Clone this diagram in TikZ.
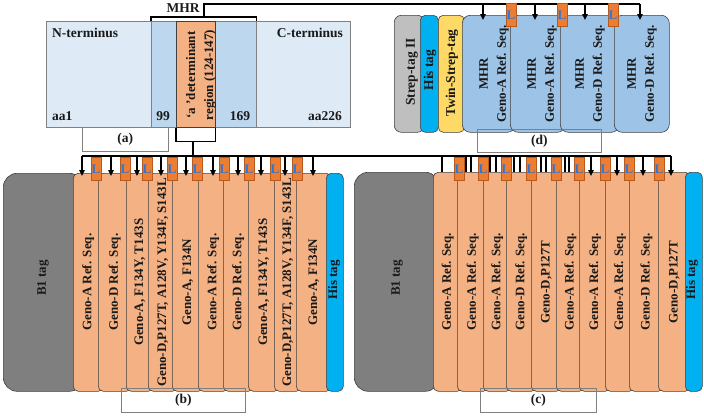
\documentclass[tikz,border=0pt]{standalone}
\usepackage{fontspec}
\setmainfont{Liberation Serif}
\usetikzlibrary{arrows.meta, positioning}
\definecolor{protfill}{HTML}{DEEBF7}
\definecolor{mhrfill}{HTML}{BDD7EE}
\definecolor{adetfill}{HTML}{F4B183}
\definecolor{linkfill}{HTML}{ED7D31}
\definecolor{linkdraw}{HTML}{B85A1E}
\definecolor{linktext}{HTML}{2E75D6}
\definecolor{tagdark}{HTML}{7F7F7F}
\definecolor{taglight}{HTML}{BFBFBF}
\definecolor{histag}{HTML}{00B0F0}
\definecolor{twintag}{HTML}{FFD966}
\definecolor{mhrbox}{HTML}{9DC3E6}
\definecolor{edge}{HTML}{404040}

\begin{document}
\begin{tikzpicture}[
    x=1pt, y=-1pt,
    every node/.style={font=\bfseries\fontsize{13.5}{18}\selectfont, inner sep=0pt, text=black!90},
    box/.style={draw=edge, line width=0.6pt, anchor=north west, rounded corners=5pt},
    flat/.style={box, rounded corners=0pt, draw=gray},
    lbl/.style={rotate=90, font=\bfseries\fontsize{13}{18}\selectfont},
    link/.style={draw=linkdraw, fill=linkfill, line width=0.5pt, anchor=north,
        minimum width=9.5pt, minimum height=23pt, text=linktext,
        font=\bfseries\fontsize{13}{13}\selectfont},
    tagbox/.style={draw=gray, line width=0.6pt, anchor=north west, minimum height=24pt},
    wire/.style={black, line width=1.5pt},
    feed/.style={wire, -{Triangle[length=6pt, width=5.5pt]}},
]
\useasboundingbox (0,0) rectangle (704,415);

% ---------------- (a) the protein
\node[flat, fill=protfill, minimum width=304pt, minimum height=106pt] (prot) at (46,21) {};
\node[flat, fill=mhrfill, minimum width=105pt, minimum height=106pt] (mhr) at (151,21) {};
\node[flat, fill=adetfill, draw=edge, minimum width=39pt, minimum height=106pt] (adet) at (176,21) {};
\node[anchor=west] (nterm) at (52,33) {N-terminus};
\node[anchor=east] (cterm) at (343,33) {C-terminus};
\node[anchor=west] (aa1) at (52,116) {aa1};
\node (n99) at (163,116) {99};
\node (n169) at (240,116) {169};
\node[anchor=east] (aa226) at (342,116) {aa226};
\node[lbl, align=center] (adetl) at (201,75) {‘a ’determinant\\region (124-147)};
\node[tagbox, minimum width=86pt] (taga) at (82,127) {(a)};

% ---------------- (d) the MHR construct
\node[box, rounded corners=7pt, fill=taglight, minimum width=30pt, minimum height=117pt] (strep) at (394,15) {};
\node[box, fill=histag, minimum width=18pt, minimum height=117pt] (hisd) at (420,15) {};
\node[box, fill=twintag, minimum width=26pt, minimum height=117pt] (twin) at (438,15) {};
\foreach \i/\x/\w in {1/462/53, 2/510/55, 3/560/59, 4/614/55}{
    \node[box, rounded corners=8pt, fill=mhrbox, minimum width=\w pt, minimum height=117pt] (mhrd\i) at (\x,15) {};
}
\node[lbl, font=\bfseries\fontsize{13.5}{18}\selectfont] (strepl) at (412,72) {Strep-tag II};
\node[lbl, font=\bfseries\fontsize{13.5}{18}\selectfont] (hisdl) at (430,70) {His tag};
\node[lbl, font=\bfseries\fontsize{13.5}{18}\selectfont] (twinl) at (452,73) {Twin-Strep-tag};
\foreach \i/\x/\g in {1/494/A, 2/542/A, 3/590/D, 4/642/D}{
    \node[lbl, align=center] (mhrdl\i) at (\x,74) {MHR\\Geno-\g{} Ref. Seq.};
}
\node[tagbox, minimum width=124pt, minimum height=23pt] (tagd) at (477,129) {(d)};

% ---------------- (b) first B1 construct
\node[box, rounded corners=14pt, fill=tagdark, minimum width=80pt, minimum height=218pt] (b1b) at (3,173) {};
\foreach \i/\x/\w/\txt in {1/73/30/{Geno-A Ref. Seq.}, 2/98/33/{Geno-D Ref. Seq.},
    3/126/27/{Geno-A, F134Y, T143S}, 4/148/29/{Geno-D,P127T, A128V, Y134F, S143L},
    5/172/31/{Geno-A, F134N}, 6/198/30/{Geno-A Ref. Seq.}, 7/223/30/{Geno-D Ref. Seq.},
    8/248/31/{Geno-A, F134Y, T143S}, 9/274/27/{Geno-D,P127T, A128V, Y134F, S143L},
    10/296/35/{Geno-A, F134N}}{
    \node[box, fill=adetfill, minimum width=\w pt, minimum height=218pt] (colb\i) at (\x,173) {};
    \node[lbl] (colbl\i) at (colb\i.center) {\txt};
}
\node[box, fill=histag, minimum width=17pt, minimum height=218pt] (hisb) at (326,173) {};
\node[lbl] (b1bl) at (43,278) {B1 tag};
\node[lbl] (hisbl) at (334,280) {His tag};
\node[tagbox, minimum width=124pt] (tagb) at (121,388) {(b)};

% ---------------- (c) second B1 construct
\node[box, rounded corners=14pt, fill=tagdark, minimum width=85pt, minimum height=219pt] (b1c) at (354,172) {};
\foreach \i/\x/\w/\txt in {1/433/29/{Geno-A Ref. Seq.}, 2/457/31/{Geno-A Ref. Seq.},
    3/483/28/{Geno-A Ref. Seq.}, 4/506/30/{Geno-D Ref. Seq.}, 5/531/30/{Geno-D,P127T},
    6/556/28/{Geno-A Ref. Seq.}, 7/579/31/{Geno-A Ref. Seq.}, 8/605/29/{Geno-A Ref. Seq.},
    9/629/34/{Geno-D Ref. Seq.}, 10/658/32/{Geno-D,P127T}}{
    \node[box, fill=adetfill, minimum width=\w pt, minimum height=219pt] (colc\i) at (\x,172) {};
    \node[lbl] (colcl\i) at (colc\i.center) {\txt};
}
\node[box, fill=histag, minimum width=17pt, minimum height=219pt] (hisc) at (685,172) {};
\node[lbl] (b1cl) at (397,278) {B1 tag};
\node[lbl] (hiscl) at (692,280) {His tag};
\node[tagbox, minimum width=116pt] (tagc) at (480,388) {(c)};

% ---------------- wiring
\draw[wire] (mhr.north west) -- ++(0,-4) -| (mhr.north east);
\coordinate (mhrtop) at (204,17);
\coordinate (topl) at (204,4);
\coordinate (topr) at (640,4);
\draw[wire] (mhrtop) -- (topl) -- (topr);
\node (mhrl) at (183,8) {MHR};
\foreach \x [count=\i] in {483, 535, 585, 640}{
    \coordinate (fd\i) at (\x,4);
    \coordinate (td\i) at (\x,20);
    \draw[feed] (fd\i) -- (td\i);
}

\draw[wire] (adet.south west) -- ++(0,14) -| (adet.south east);
\coordinate (stemt) at (193,141);
\coordinate (stemb) at (193,156);
\draw[wire] (stemt) -- (stemb);
\foreach \x [count=\i] in {82, 111, 137, 161, 186, 213, 238, 261, 285, 313}{
    \coordinate (fb\i) at (\x,156);
    \coordinate (tb\i) at (\x,176);
    \draw[feed] (fb\i) -- (tb\i);
}
\foreach \x [count=\i] in {442, 466, 471, 490, 496, 514, 520, 541, 546, 565, 569}{
    \coordinate (fs\i) at (\x,156);
    \coordinate (ts\i) at (\x,172);
    \draw[wire] (fs\i) -- (ts\i);
}
\foreach \x [count=\i] in {591, 617, 643, 671}{
    \coordinate (fc\i) at (\x,156);
    \coordinate (tc\i) at (\x,176);
    \draw[feed] (fc\i) -- (tc\i);
}
\draw[wire] (fb1) -- (fc4);

% ---------------- linkers
\foreach \x [count=\i] in {511, 562, 613}{ \node[link] (ld\i) at (\x,3) {L}; }
\foreach \x [count=\i] in {96, 125, 147, 172, 197, 224, 249, 275, 297}{ \node[link] (lb\i) at (\x,157) {L}; }
\foreach \x [count=\i] in {459, 483, 506, 531, 556, 579, 605, 629, 659}{ \node[link] (lc\i) at (\x,157) {L}; }
\end{tikzpicture}
\end{document}
